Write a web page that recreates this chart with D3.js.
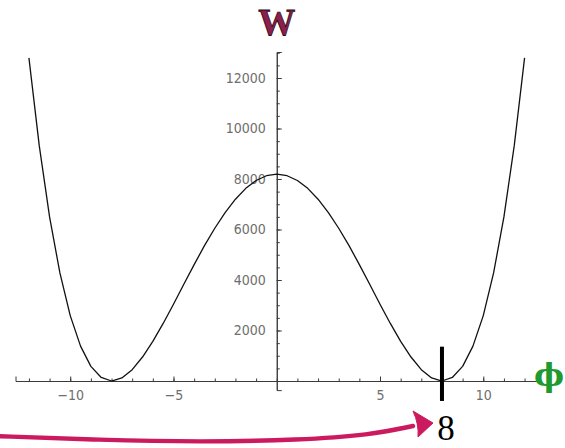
<!DOCTYPE html>
<html>
<head>
<meta charset="utf-8">
<script src="https://cdn.jsdelivr.net/npm/d3@7"></script>
<style>
  html, body { margin: 0; padding: 0; background: #fff; }
  svg { display: block; }
  .tick text { font-family: "Liberation Sans Narrow", "DejaVu Sans Condensed", "Liberation Sans", sans-serif; }
</style>
</head>
<body>
<svg id="chart" width="565" height="448"></svg>
<script>
// Double-well potential W(phi), sampled every 0.5
const phi = [-12, -11.5, -11, -10.5, -10, -9.5, -9, -8.5, -8, -7.5, -7, -6.5, -6,
             -5.5, -5, -4.5, -4, -3.5, -3, -2.5, -2, -1.5, -1, -0.5, 0,
             0.5, 1, 1.5, 2, 2.5, 3, 3.5, 4, 4.5, 5, 5.5, 6, 6.5, 7, 7.5, 8,
             8.5, 9, 9.5, 10, 10.5, 11, 11.5, 12];
const W = [12800, 9320, 6500, 4280, 2590, 1380, 580, 140, 0, 120, 450, 950, 1570,
           2280, 3040, 3830, 4610, 5360, 6050, 6670, 7200, 7630, 7940, 8130, 8190,
           8130, 7940, 7630, 7200, 6670, 6050, 5360, 4610, 3830, 3040, 2280, 1570, 950, 450, 120, 0,
           140, 580, 1380, 2590, 4280, 6500, 9320, 12800];

const xTickLabels = [-10, -5, 5, 10];
const yTickLabels = [2000, 4000, 6000, 8000, 10000, 12000];
const vacuumPhi = 8;

const svg = d3.select("#chart");

const x = d3.scaleLinear().domain([-12.65, 12.65]).range([15.5, 538]);
const y = d3.scaleLinear().domain([-360, 13030]).range([390.1, 52]);

const axisColor = "#3a3a3a";
const labelColor = "#6e6e6e";

// x axis: minor ticks every 1, major labelled ticks
const xAxisG = svg.append("g").attr("transform", `translate(0,${y(0)})`);
xAxisG.call(d3.axisBottom(x).tickValues(d3.range(-12, 13, 1)).tickSize(-2.5).tickSizeOuter(0).tickFormat(""));
xAxisG.append("g").call(d3.axisBottom(x).tickValues(xTickLabels).tickSize(-4.5).tickPadding(9.5)
  .tickFormat(d3.format("d")));
xAxisG.selectAll("path.domain").attr("stroke", axisColor);
xAxisG.selectAll("line").attr("stroke", axisColor);
xAxisG.selectAll("g.tick text").attr("fill", labelColor).attr("font-size", 14);

// y axis: minor ticks every 500, ticks drawn to the right, labels to the left
const yAxisG = svg.append("g").attr("transform", `translate(${x(0)},0)`);
yAxisG.call(d3.axisLeft(y).tickValues(d3.range(0, 13001, 500)).tickSize(-3).tickSizeOuter(0).tickFormat(""));
yAxisG.append("g").call(d3.axisLeft(y).tickValues(yTickLabels).tickSize(-5).tickPadding(11)
  .tickFormat(d3.format("d")));
yAxisG.selectAll("path.domain").attr("stroke", axisColor);
yAxisG.selectAll("line").attr("stroke", axisColor);
yAxisG.selectAll("g.tick text").attr("fill", labelColor).attr("font-size", 14);

// potential curve
const pts = phi.map((p, i) => [p, W[i]]);
svg.append("path")
  .datum(pts)
  .attr("fill", "none")
  .attr("stroke", "#111")
  .attr("stroke-width", 1.3)
  .attr("stroke-linejoin", "round")
  .attr("d", d3.line().x(d => x(d[0])).y(d => y(d[1])));

// axis titles
svg.append("text")
  .attr("x", x(0)).attr("y", 35)
  .attr("text-anchor", "middle")
  .attr("font-family", "'Liberation Serif', 'DejaVu Serif', serif")
  .attr("font-weight", "bold")
  .attr("font-size", 37)
  .attr("fill", "#8d1f4e")
  .attr("stroke", "#2a0815")
  .attr("stroke-width", 0.8)
  .text("W");

svg.append("text")
  .attr("x", 564).attr("y", 386)
  .attr("text-anchor", "end")
  .attr("font-family", "'DejaVu Serif', 'Liberation Serif', serif")
  .attr("font-weight", "bold")
  .attr("font-size", 32)
  .attr("fill", "#1f9a30")
  .text("ϕ");

// vacuum marker at phi = 8
svg.append("line")
  .attr("x1", x(vacuumPhi)).attr("x2", x(vacuumPhi))
  .attr("y1", y(1360)).attr("y2", y(-790))
  .attr("stroke", "#000").attr("stroke-width", 4);

svg.append("text")
  .attr("x", x(vacuumPhi) + 4).attr("y", 440)
  .attr("text-anchor", "middle")
  .attr("font-family", "'Liberation Serif', 'DejaVu Serif', serif")
  .attr("font-size", 35)
  .attr("fill", "#000")
  .text(String(vacuumPhi));

// hand-drawn arrow pointing at the label
const arrowColor = "#cc1a5e";
const shaft = [[-6, 436], [100, 440], [200, 442], [300, 440], [370, 435], [413, 426]];
svg.append("path")
  .attr("fill", "none")
  .attr("stroke", arrowColor)
  .attr("stroke-width", 4.4)
  .attr("stroke-linecap", "round")
  .attr("d", d3.line().curve(d3.curveBasis)(shaft));

svg.append("path")
  .attr("fill", arrowColor)
  .attr("stroke", arrowColor)
  .attr("stroke-width", 1)
  .attr("stroke-linejoin", "round")
  .attr("d", "M433,423 L413,411 Q419,424 418,437 Z");
</script>
</body>
</html>
